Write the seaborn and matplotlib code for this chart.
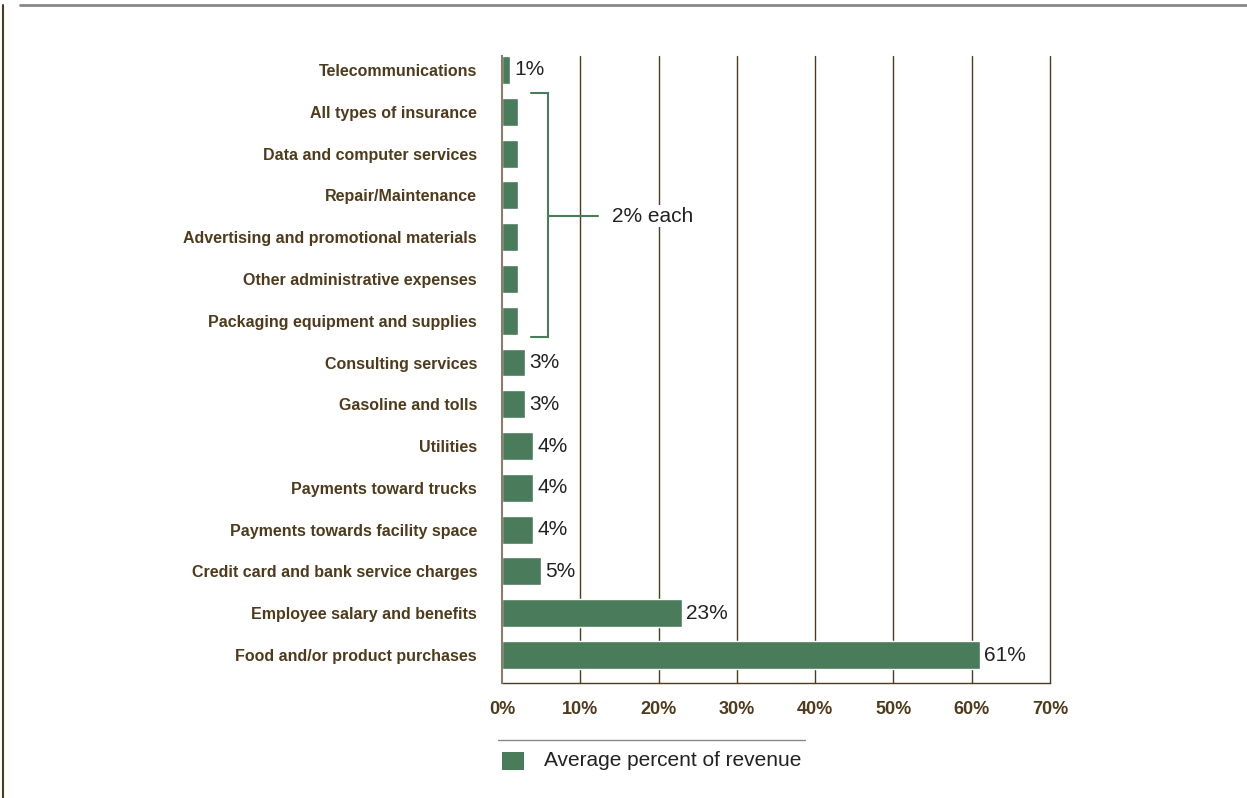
import matplotlib
matplotlib.use("Agg")
import matplotlib.pyplot as plt
import seaborn as sns
import pandas as pd
from matplotlib.lines import Line2D
from matplotlib.patches import Rectangle

categories = [
    "Telecommunications",
    "All types of insurance",
    "Data and computer services",
    "Repair/Maintenance",
    "Advertising and promotional materials",
    "Other administrative expenses",
    "Packaging equipment and supplies",
    "Consulting services",
    "Gasoline and tolls",
    "Utilities",
    "Payments toward trucks",
    "Payments towards facility space",
    "Credit card and bank service charges",
    "Employee salary and benefits",
    "Food and/or product purchases",
]
values = [1, 2, 2, 2, 2, 2, 2, 3, 3, 4, 4, 4, 5, 23, 61]
show_label = [True, False, False, False, False, False, False,
              True, True, True, True, True, True, True, True]
x_ticks = [0, 10, 20, 30, 40, 50, 60, 70]
legend_label = "Average percent of revenue"
bracket_text = "2% each"

green = "#4a7b5b"
brown = "#4f3b1c"

df = pd.DataFrame({"category": categories, "value": values})

sns.set_style("white")
plt.rcParams['font.family'] = ['Liberation Sans', 'DejaVu Sans']

fig = plt.figure(figsize=(12.47, 7.98), dpi=100)
ax = fig.add_axes([502 / 1247, 1 - 683 / 798, 548 / 1247, (683 - 56) / 798])

sns.barplot(data=df, x="value", y="category", color=green, width=0.67,
            saturation=1, ax=ax, zorder=3)

ax.set_xlim(0, 70)
ax.set_ylim(14.67, -0.335)
ax.set_xticks(x_ticks)
ax.set_xticklabels([f"{t}%" for t in x_ticks], fontsize=13, fontweight="bold", color=brown)
ax.tick_params(axis="x", length=0, pad=13)
ax.tick_params(axis="y", length=0, pad=18)
for lbl in ax.get_yticklabels():
    lbl.set_fontsize(11.5)
    lbl.set_fontweight("bold")
    lbl.set_color(brown)
ax.set_xlabel("")
ax.set_ylabel("")

for t in x_ticks[1:]:
    ax.axvline(t, color=brown, lw=1, zorder=1, clip_on=False)

for s in ["top", "right"]:
    ax.spines[s].set_visible(False)
ax.spines["left"].set_color("#8a7d6a")
ax.spines["left"].set_linewidth(1.5)
ax.spines["bottom"].set_color(brown)
ax.spines["bottom"].set_linewidth(1)
ax.spines["left"].set_zorder(4)

for i, (v, show) in enumerate(zip(values, show_label)):
    if show:
        ax.annotate(f"{v}%", (v, i), xytext=(3, 0), textcoords="offset points",
                    va="center", ha="left", fontsize=15, color="#222222")

# bracket for the 2% group
bx = 5.9
ax.plot([3.7, bx, bx, 3.7], [0.55, 0.55, 6.4, 6.4], color=green, lw=1.5,
        zorder=4, solid_joinstyle="miter")
ax.plot([bx, 12.3], [3.5, 3.5], color=green, lw=1.5, zorder=4)
ax.text(14, 3.5, bracket_text, va="center", ha="left", fontsize=15,
        color="#222222", zorder=5,
        bbox=dict(facecolor="white", edgecolor="none", pad=1))

# frame lines and legend
fig.add_artist(Line2D([20 / 1247, 1], [1 - 5 / 798] * 2, color="#888888", lw=2))
fig.add_artist(Line2D([3 / 1247] * 2, [0, 1 - 5 / 798], color=brown, lw=1.5))
fig.add_artist(Line2D([498 / 1247, 805 / 1247], [1 - 740 / 798] * 2,
                      color="#888888", lw=1))
fig.add_artist(Rectangle((502 / 1247, 1 - 770 / 798), 22 / 1247, 18 / 798,
                         facecolor=green, edgecolor="none"))
fig.text(544 / 1247, 1 - 761 / 798, legend_label, va="center", ha="left",
         fontsize=15, color="#222222")

fig.savefig("out.png", dpi=100)
